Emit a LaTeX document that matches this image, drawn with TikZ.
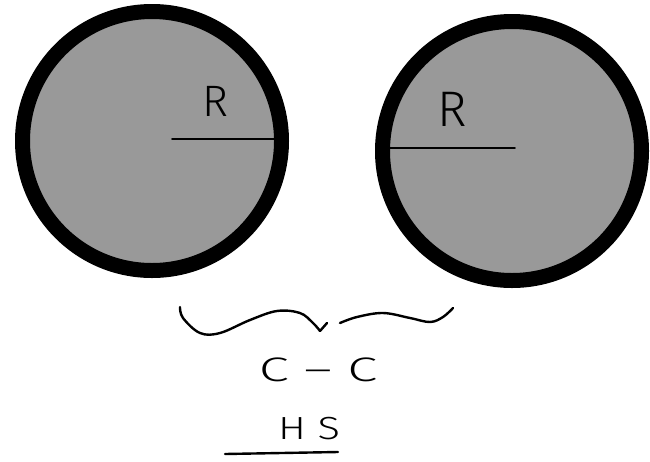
\documentclass[tikz,border=0pt]{standalone}
\usepackage{fontspec}
\setmainfont{Fira Sans}[UprightFont={* Light}]
\usetikzlibrary{calc}
\definecolor{ink}{HTML}{000000}
\definecolor{disc}{HTML}{999999}

\begin{document}
\begin{tikzpicture}[x=1pt,y=-1pt,line cap=round,line join=round,
  ball/.style={draw=ink,fill=disc,line width=15pt},
  rad/.style={ink,line width=1.6pt},
  hand/.style={ink,line width=2.4pt},
  lab/.style={inner sep=0pt,ink}]
  \useasboundingbox (0,0) rectangle (650,461);

  % two discs
  \coordinate (Lc) at (152,141);
  \coordinate (Rc) at (512,151);
  \draw[ball] (Lc) circle (129.5pt);
  \draw[ball] (Rc) circle (129.5pt);

  % radii
  \coordinate (La) at ($(Lc)+(20,-2)$);
  \coordinate (Lb) at ($(Lc)+(122,-2)$);
  \draw[rad] (La) -- (Lb);
  \coordinate (Ra) at ($(Rc)+(-122,-3)$);
  \coordinate (Rb) at ($(Rc)+(3,-3)$);
  \draw[rad] (Ra) -- (Rb);
  \node[lab,font=\fontsize{44}{44}\selectfont] (RL) at (215,101) {R};
  \node[lab,font=\fontsize{50}{50}\selectfont] (RR) at (452,109) {R};

  % brace
  \draw[hand] plot[smooth,tension=.6] coordinates
    {(180,307) (183,318) (200,333) (220,333) (250,320) (277,311)
     (300,313) (313,323) (320,331)};
  \draw[hand] (320,331) -- (327,323);
  \draw[hand] plot[smooth,tension=.6] coordinates
    {(340,323) (357,317) (383,313) (410,318) (430,322) (443,317) (453,308)};

  % labels
  \node[lab,font=\fontsize{34}{34}\selectfont] (cc) at (318,370)
    {\scalebox{1.6}[1]{C -- C}};
  \node[lab,font=\fontsize{32}{32}\selectfont] (hs) at (309,429)
    {\scalebox{1.3}[1]{H S}};
  \coordinate (ua) at (225,454);
  \coordinate (ub) at (338,452);
  \draw[hand] (ua) -- (ub);
\end{tikzpicture}
\end{document}
